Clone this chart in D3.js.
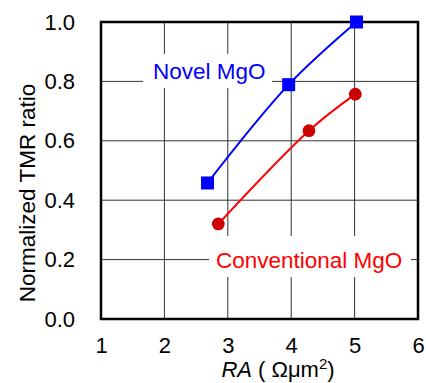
<!doctype html>
<html>
<head>
<meta charset="utf-8">
<script src="https://d3js.org/d3.v7.min.js"></script>
<style>
  body { margin: 0; background: #fff; }
  text { font-family: "Liberation Sans", Arial, sans-serif; }
</style>
</head>
<body>
<div id="chart"></div>
<script>
const novelRA = [2.68, 3.96, 5.03];
const novelTMR = [0.458, 0.789, 1.0];
const convRA = [2.85, 4.28, 5.01];
const convTMR = [0.32, 0.634, 0.757];
const xTicks = [1, 2, 3, 4, 5, 6];
const yTicks = [0, 0.2, 0.4, 0.6, 0.8, 1.0];

const w = 426, h = 383;
const mLeft = 101, mRight = 418, mTop = 22, mBottom = 319;

const svg = d3.select('#chart').append('svg')
  .attr('width', w).attr('height', h);

const x = d3.scaleLinear().domain([1, 6]).range([mLeft, mRight]);
const y = d3.scaleLinear().domain([0, 1]).range([mBottom, mTop]);

// grid lines
const grid = svg.append('g').attr('stroke', '#333').attr('stroke-width', 1);
grid.selectAll('.gx').data(xTicks.slice(1, -1)).enter().append('line')
  .attr('x1', d => x(d)).attr('x2', d => x(d))
  .attr('y1', mTop).attr('y2', mBottom);
grid.selectAll('.gy').data(yTicks.slice(1, -1)).enter().append('line')
  .attr('y1', d => y(d)).attr('y2', d => y(d))
  .attr('x1', mLeft).attr('x2', mRight);

// white boxes behind labels
svg.append('rect').attr('x', 143).attr('y', 54).attr('width', 129).attr('height', 34).attr('fill', '#fff');
svg.append('rect').attr('x', 209).attr('y', 236).attr('width', 202).attr('height', 41).attr('fill', '#fff');

// frame
svg.append('rect').attr('x', mLeft).attr('y', mTop)
  .attr('width', mRight - mLeft).attr('height', mBottom - mTop)
  .attr('fill', 'none').attr('stroke', '#000').attr('stroke-width', 2.5);

// axes labels
const xAxis = d3.axisBottom(x).tickValues(xTicks).tickSize(0).tickPadding(18).tickFormat(d3.format('d'));
svg.append('g').attr('transform', `translate(0,${mBottom})`).call(xAxis)
  .call(g => g.select('.domain').remove())
  .selectAll('text').attr('font-size', 22).attr('fill', '#000')
  .style('font-family', '"Liberation Sans", Arial, sans-serif');

const yAxis = d3.axisLeft(y).tickValues(yTicks).tickSize(0).tickPadding(26).tickFormat(d3.format('.1f'));
svg.append('g').attr('transform', `translate(${mLeft},0)`).call(yAxis)
  .call(g => g.select('.domain').remove())
  .selectAll('text').attr('font-size', 22).attr('fill', '#000')
  .style('font-family', '"Liberation Sans", Arial, sans-serif');

svg.append('text')
  .attr('transform', `translate(35,193) rotate(-90)`)
  .attr('text-anchor', 'middle').attr('font-size', 22.5)
  .text('Normalized TMR ratio');

const xl = svg.append('text').attr('x', 278).attr('y', 377)
  .attr('text-anchor', 'middle').attr('font-size', 22);
xl.append('tspan').attr('font-style', 'italic').text('RA');
xl.append('tspan').text(' ( Ωμm');
xl.append('tspan').attr('font-size', 15).attr('dy', -8).text('2');
xl.append('tspan').attr('dy', 8).text(')');

// series
const line = d3.line().curve(d3.curveCatmullRom.alpha(0.5));
const novel = novelRA.map((d, i) => [x(d), y(novelTMR[i])]);
const conv = convRA.map((d, i) => [x(d), y(convTMR[i])]);

svg.append('path').attr('d', line(novel)).attr('fill', 'none')
  .attr('stroke', '#0000ff').attr('stroke-width', 2);
svg.append('path').attr('d', line(conv)).attr('fill', 'none')
  .attr('stroke', '#ff0000').attr('stroke-width', 2);

const sq = 13;
svg.selectAll('.sq').data(novel).enter().append('rect')
  .attr('x', d => d[0] - sq / 2).attr('y', d => d[1] - sq / 2)
  .attr('width', sq).attr('height', sq).attr('fill', '#0000ff');
svg.selectAll('.ci').data(conv).enter().append('circle')
  .attr('cx', d => d[0]).attr('cy', d => d[1]).attr('r', 6.4).attr('fill', '#cc0000');

svg.append('text').attr('x', 153).attr('y', 79).attr('font-size', 22.5)
  .attr('fill', '#0000ff').text('Novel MgO');
svg.append('text').attr('x', 216).attr('y', 268).attr('font-size', 22.5)
  .attr('fill', '#ff0000').text('Conventional MgO');
</script>
</body>
</html>
